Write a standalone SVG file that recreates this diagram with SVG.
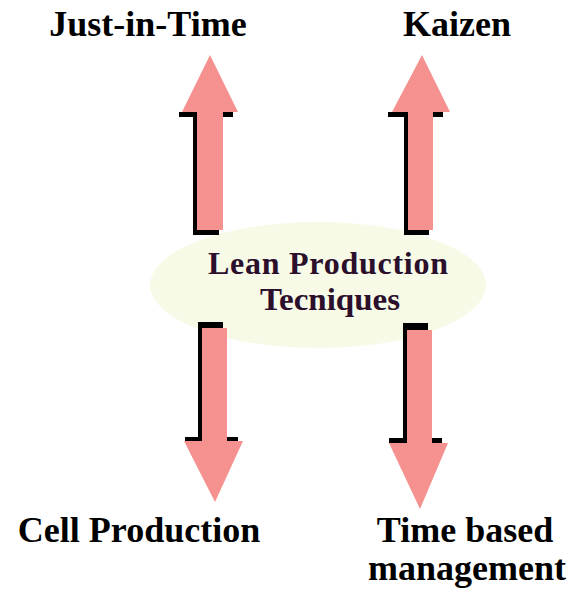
<svg xmlns="http://www.w3.org/2000/svg" width="577" height="594" viewBox="0 0 577 594">
  <style>
    .label { font-family: "Liberation Serif", "Times New Roman", serif; font-weight: bold; font-size: 36px; fill: #000; text-anchor: middle; }
    .core { font-family: "Liberation Serif", "Times New Roman", serif; font-weight: bold; font-size: 32px; fill: #2b0f2b; text-anchor: middle; }
    .arrow { fill: #f5918f; }
    .shadow { fill: #000; }
  </style>
  <rect width="577" height="594" fill="#ffffff"/>

  <!-- central hub -->
  <g id="hub">
    <ellipse cx="318" cy="285" rx="168" ry="63" fill="#f6fae7"/>
    <text class="core" x="328" y="274" textLength="240" lengthAdjust="spacing">Lean Production</text>
    <text class="core" x="330" y="310" textLength="140" lengthAdjust="spacingAndGlyphs">Tecniques</text>
  </g>

  <!-- arrows from the hub to each technique -->
  <g id="connectors">
    <!-- up, Just-in-Time -->
    <g>
      <rect class="shadow" x="193" y="112" width="26" height="123"/>
      <rect class="shadow" x="179" y="112" width="54" height="5"/>
      <polygon class="arrow" points="210,55 238,112 223,112 223,230 197,230 197,112 182,112"/>
    </g>
    <!-- up, Kaizen -->
    <g>
      <rect class="shadow" x="404" y="112" width="25" height="123"/>
      <rect class="shadow" x="388" y="112" width="55" height="5"/>
      <polygon class="arrow" points="422,55 450,112 433,112 433,230 408,230 408,112 392,112"/>
    </g>
    <!-- down, Cell Production -->
    <g>
      <rect class="shadow" x="198" y="322" width="25" height="120"/>
      <rect class="shadow" x="185" y="437" width="53" height="5"/>
      <polygon class="arrow" points="202,328 227,328 227,441 243,441 215,502 184,441 202,441"/>
    </g>
    <!-- down, Time based management -->
    <g>
      <rect class="shadow" x="403" y="323" width="25" height="120"/>
      <rect class="shadow" x="389" y="438" width="53" height="5"/>
      <polygon class="arrow" points="407,330 432,330 432,443 448,443 420,509 389,443 407,443"/>
    </g>
  </g>

  <g id="jit">
    <text class="label" x="148" y="36">Just-in-Time</text>
  </g>
  <g id="kaizen">
    <text class="label" x="457" y="36">Kaizen</text>
  </g>
  <g id="cell">
    <text class="label" x="139" y="542">Cell Production</text>
  </g>
  <g id="tbm">
    <text class="label" x="465" y="542">Time based</text>
    <text class="label" x="467" y="580">management</text>
  </g>
</svg>
